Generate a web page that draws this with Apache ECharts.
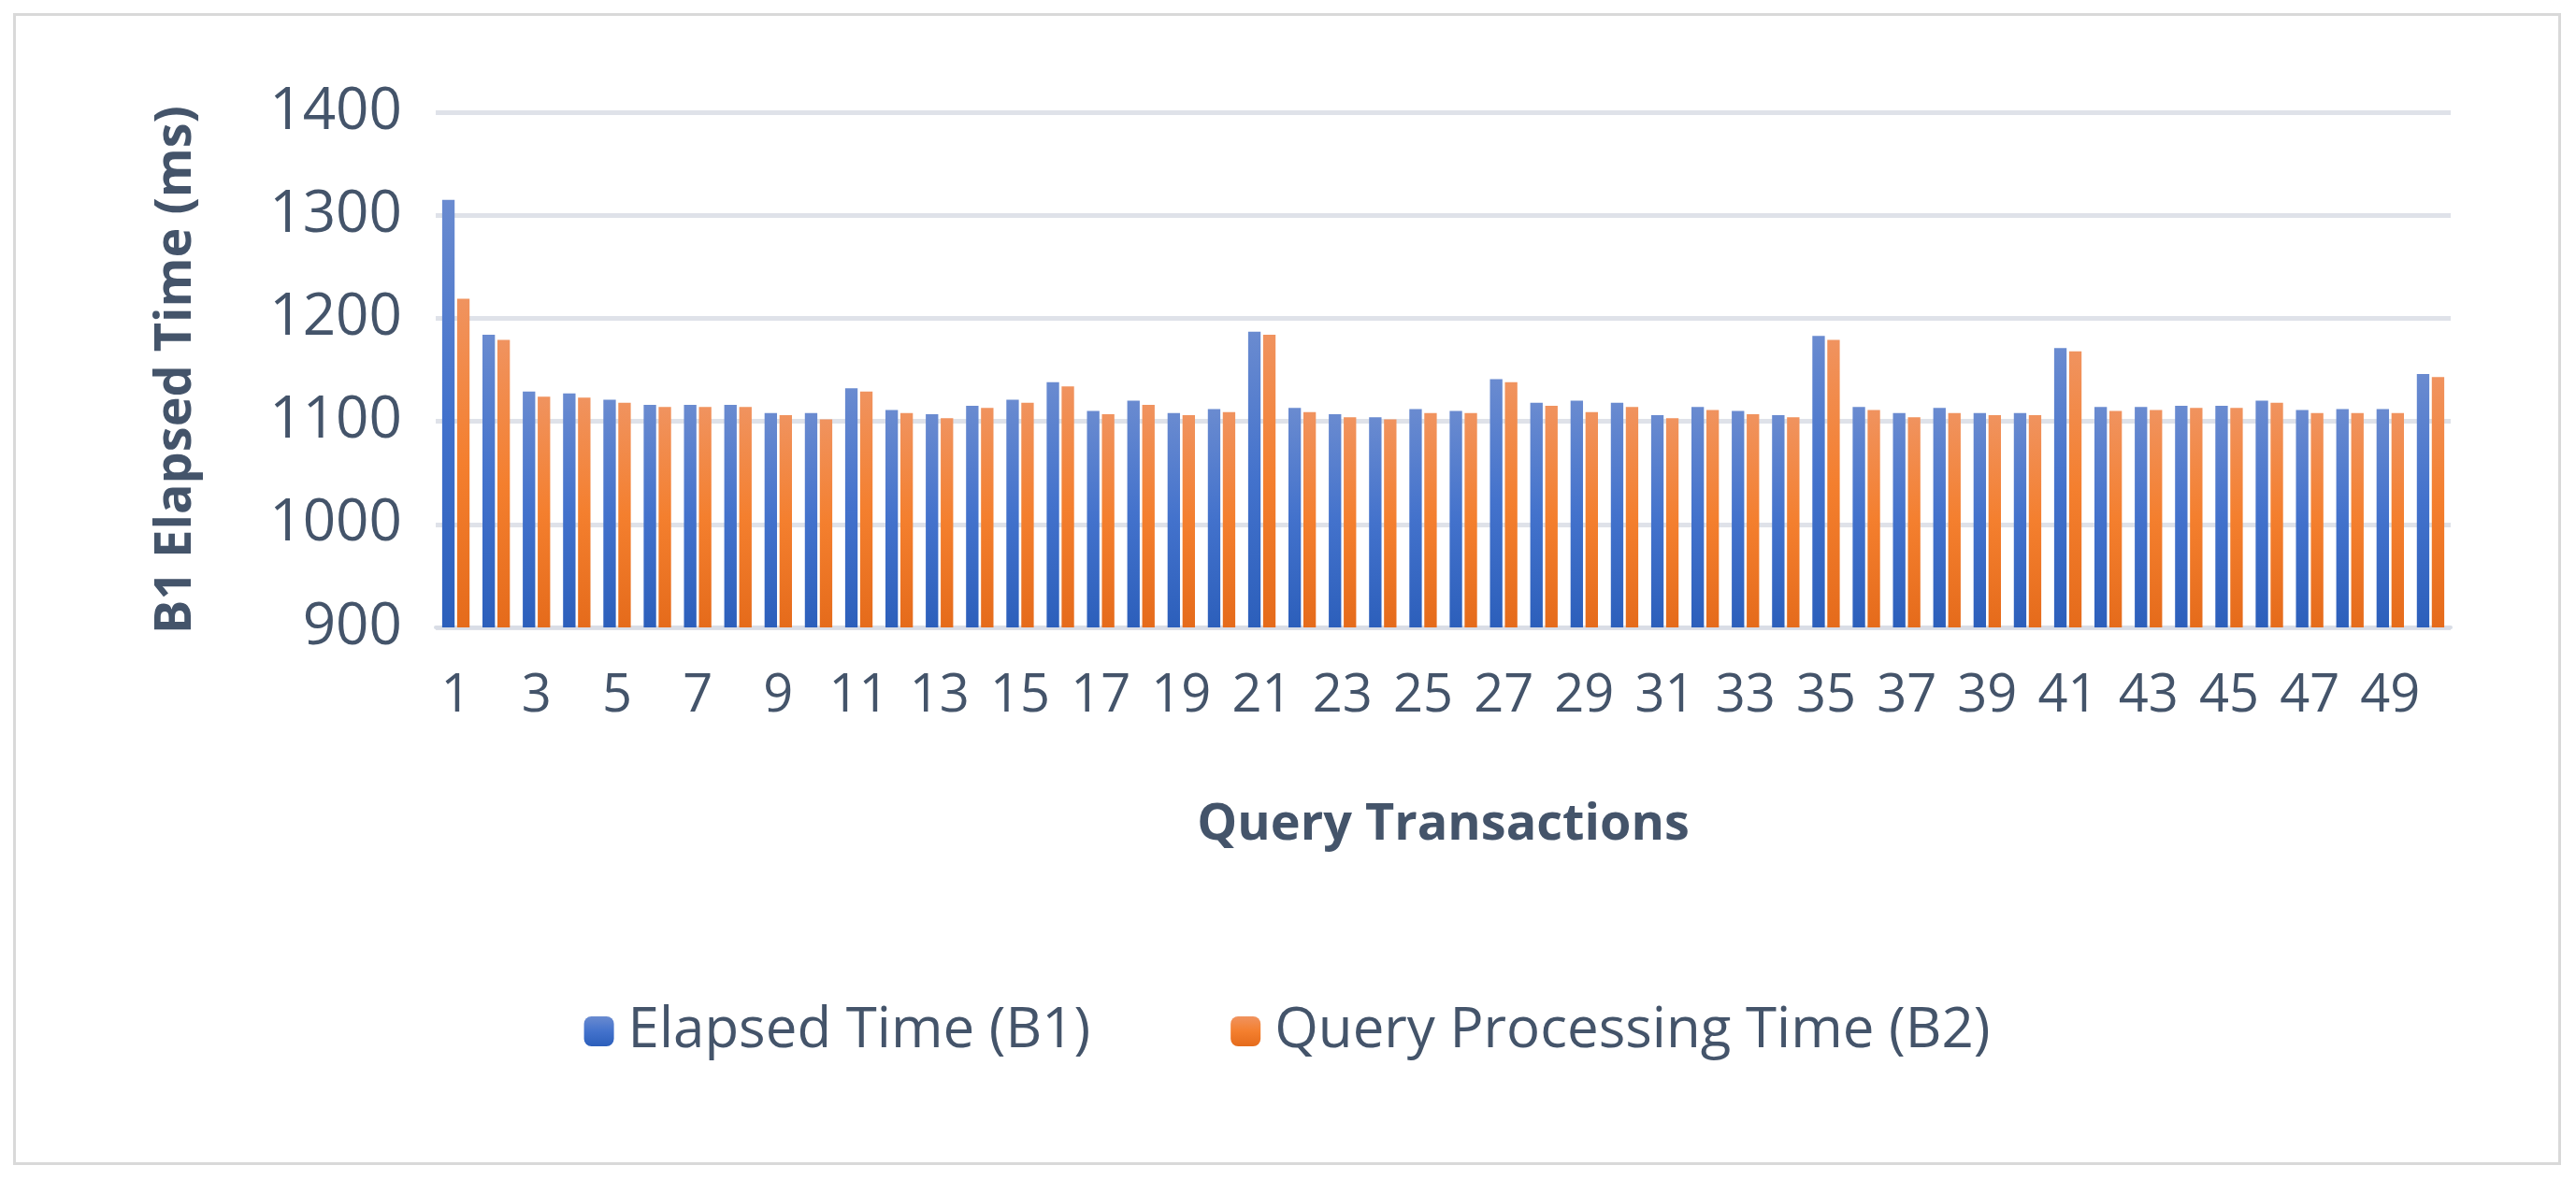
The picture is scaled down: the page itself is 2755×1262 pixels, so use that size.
<!DOCTYPE html>
<html lang="en">
<head>
    <meta charset="UTF-8">
    <title>Query Transactions</title>
    <script src="https://cdn.jsdelivr.net/npm/echarts@6/dist/echarts.min.js"></script>
</head>
<body style="margin:0;width:2755px;height:1262px;background:#fff">
    <div id="container" style="position:absolute;left:14px;top:14px;width:2725px;height:1232px;border:3px solid #d9d9d9;box-sizing:border-box"></div>
</body>
<script>
    var categories = [];
    for (var i = 1; i <= 50; i++) categories.push(String(i));

    var elapsedB1 = [1315,1184,1129,1127,1121,1116,1116,1116,1108,1108,
                     1132,1111,1107,1115,1121,1138,1110,1120,1108,1112,
                     1187,1113,1107,1104,1112,1110,1141,1118,1120,1118,
                     1106,1114,1110,1106,1183,1114,1108,1113,1108,1108,
                     1171,1114,1114,1115,1115,1120,1111,1112,1112,1146];
    var processingB2 = [1219,1179,1124,1123,1118,1114,1114,1114,1106,1102,
                        1129,1108,1103,1113,1118,1134,1107,1116,1106,1109,
                        1184,1109,1104,1102,1108,1108,1138,1115,1109,1114,
                        1103,1111,1107,1104,1179,1111,1104,1108,1106,1106,
                        1168,1110,1111,1113,1113,1118,1108,1108,1108,1143];
    var yTicks = [900, 1400, 100];

    var textColor = '#44546a';
    function grad(top, mid, bottom) {
        return new echarts.graphic.LinearGradient(0, 0, 0, 1, [
            {offset: 0, color: top}, {offset: 0.5, color: mid}, {offset: 1, color: bottom}
        ]);
    }

    var myChart = echarts.init(document.getElementById('container'));
    var option = {
        animation: false,
        grid: {left: 449, right: 115, top: 103, bottom: 572, containLabel: false},
        legend: {
            bottom: 105,
            left: 'center',
            itemWidth: 32, itemHeight: 32, itemGap: 150,
            textStyle: {fontFamily: 'Open Sans', fontSize: 60, color: textColor, padding: [0, 0, 0, 10]},
            data: ['Elapsed Time (B1)', 'Query Processing Time (B2)']
        },
        xAxis: {
            type: 'category',
            data: categories,
            name: 'Query Transactions',
            nameLocation: 'middle',
            nameGap: 185,
            nameTextStyle: {fontFamily: 'Open Sans', fontWeight: 'bold', fontSize: 54, color: textColor},
            axisLine: {lineStyle: {color: '#d9dde6', width: 4}},
            axisTick: {show: false},
            axisLabel: {interval: 1, fontFamily: 'Open Sans', fontSize: 56, color: textColor, margin: 46}
        },
        yAxis: {
            type: 'value',
            min: yTicks[0], max: yTicks[1], interval: yTicks[2],
            name: 'B1 Elapsed Time (ms)',
            nameLocation: 'middle',
            nameGap: 250,
            nameTextStyle: {fontFamily: 'Open Sans', fontWeight: 'bold', fontSize: 54, color: textColor},
            axisLine: {show: false},
            axisTick: {show: false},
            axisLabel: {fontFamily: 'Open Sans', fontSize: 62, color: textColor, margin: 36,
                        formatter: function (v) { return String(v); }},
            splitLine: {lineStyle: {color: '#dfe2e9', width: 5}}
        },
        series: [{
            name: 'Elapsed Time (B1)',
            type: 'bar',
            data: elapsedB1,
            barGap: '20%',
            barCategoryGap: '32%',
            itemStyle: {color: grad('#6a8bd0', '#4372cc', '#2c5fbb')}
        }, {
            name: 'Query Processing Time (B2)',
            type: 'bar',
            data: processingB2,
            itemStyle: {color: grad('#f0935f', '#f47f2e', '#e56b1b')}
        }]
    };
    myChart.setOption(option, true);
</script>
</html>
